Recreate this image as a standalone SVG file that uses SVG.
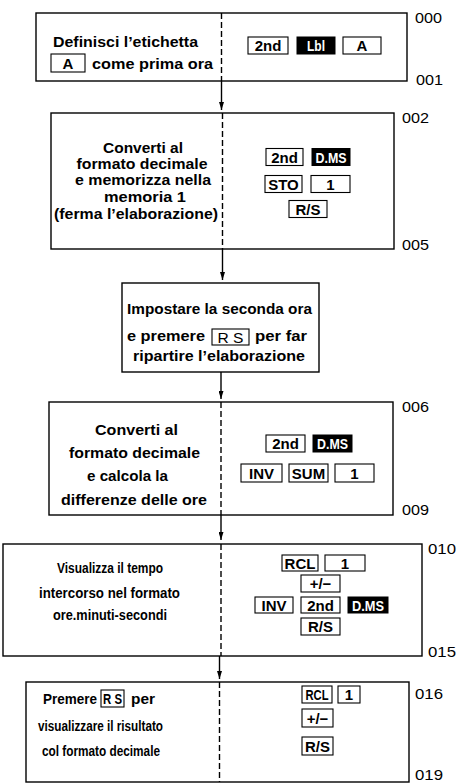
<svg xmlns="http://www.w3.org/2000/svg" width="468" height="783" viewBox="0 0 468 783">
<defs>
<style>
.box{fill:#fff;stroke:#000;stroke-width:1.4}
.div{stroke:#000;stroke-width:1.4;stroke-dasharray:6 3;fill:none}
.key{fill:#fff;stroke:#000;stroke-width:1.1}
.bkey{fill:#000;stroke:#000;stroke-width:1}
.t{font-family:"Liberation Sans",Arial,sans-serif;font-weight:bold;font-size:15px;fill:#000}
.s{font-size:14px}
.k{font-family:"Liberation Sans",Arial,sans-serif;font-weight:bold;font-size:15px;fill:#000;text-anchor:middle}
.w{fill:#fff}
.n{font-family:"Liberation Sans",Arial,sans-serif;font-size:14px;fill:#000}
.c{stroke:#000;stroke-width:1.4;fill:none;marker-end:url(#ah)}
</style>
<marker id="ah" viewBox="0 0 8 5" refX="8" refY="2.5" markerWidth="8" markerHeight="5" markerUnits="userSpaceOnUse" orient="auto">
<path d="M0,0 L8,2.5 L0,5 z" fill="#000"/>
</marker>
</defs>
<rect width="468" height="783" fill="#fff"/>

<g id="connectors">
<line class="c" x1="221.5" y1="81" x2="221.5" y2="110"/>
<line class="c" x1="222.5" y1="249" x2="222.5" y2="280"/>
<line class="c" x1="221" y1="372" x2="221" y2="399"/>
<line class="c" x1="221" y1="515" x2="221" y2="540"/>
<line class="c" x1="219.5" y1="656" x2="219.5" y2="679"/>
</g>

<g id="step1">
<rect class="box" x="36" y="13" width="371" height="68"/>
<line class="div" x1="221.5" y1="13" x2="221.5" y2="81"/>
<text class="t" x="125.5" y="47" text-anchor="middle" textLength="145" lengthAdjust="spacingAndGlyphs">Definisci l’etichetta</text>
<rect class="key" x="51" y="54" width="34" height="18"/>
<text class="k" x="68" y="69">A</text>
<text class="t" x="92" y="69" textLength="121" lengthAdjust="spacingAndGlyphs">come prima ora</text>
<rect class="key" x="248" y="37" width="40" height="17"/>
<text class="k" x="268" y="51">2nd</text>
<rect class="bkey" x="297" y="37" width="38" height="17"/>
<text class="k w" x="316" y="51" textLength="18" lengthAdjust="spacingAndGlyphs">Lbl</text>
<rect class="key" x="343" y="37" width="38" height="17"/>
<text class="k" x="362" y="51">A</text>
<text class="n" x="415" y="23" textLength="27" lengthAdjust="spacingAndGlyphs">000</text>
<text class="n" x="416" y="85" textLength="27" lengthAdjust="spacingAndGlyphs">001</text>
</g>

<g id="step2">
<rect class="box" x="51" y="113" width="343" height="136"/>
<line class="div" x1="222.5" y1="113" x2="222.5" y2="249"/>
<text class="t" x="143" y="152.5" text-anchor="middle" textLength="80" lengthAdjust="spacingAndGlyphs">Converti al</text>
<text class="t" x="142" y="168.5" text-anchor="middle" textLength="131" lengthAdjust="spacingAndGlyphs">formato decimale</text>
<text class="t" x="143" y="185" text-anchor="middle" textLength="136" lengthAdjust="spacingAndGlyphs">e memorizza nella</text>
<text class="t" x="145" y="202" text-anchor="middle" textLength="82" lengthAdjust="spacingAndGlyphs">memoria 1</text>
<text class="t" x="136" y="218.5" text-anchor="middle" textLength="164" lengthAdjust="spacingAndGlyphs">(ferma l’elaborazione)</text>
<rect class="key" x="266" y="148.5" width="37" height="17"/>
<text class="k" x="284.5" y="162.5">2nd</text>
<rect class="bkey" x="312" y="148.5" width="38" height="17"/>
<text class="k w" x="331" y="162.5" textLength="31" lengthAdjust="spacingAndGlyphs">D.MS</text>
<rect class="key" x="265" y="175.5" width="37" height="17"/>
<text class="k" x="283.5" y="189.5">STO</text>
<rect class="key" x="311" y="175.5" width="39" height="17"/>
<text class="k" x="330.5" y="189.5">1</text>
<rect class="key" x="289" y="200.5" width="38" height="17"/>
<text class="k" x="308" y="214.5">R/S</text>
<text class="n" x="402" y="123" textLength="27" lengthAdjust="spacingAndGlyphs">002</text>
<text class="n" x="402" y="250" textLength="27" lengthAdjust="spacingAndGlyphs">005</text>
</g>

<g id="step3">
<rect class="box" x="122" y="283" width="197" height="89"/>
<text class="t" x="219.5" y="313.5" text-anchor="middle" textLength="185" lengthAdjust="spacingAndGlyphs">Impostare la seconda ora</text>
<text class="t" x="127" y="340.5" textLength="78" lengthAdjust="spacingAndGlyphs">e premere</text>
<rect class="key" x="212" y="329" width="37" height="16"/>
<text class="k" x="230.5" y="342.5" style="font-weight:normal" textLength="26" lengthAdjust="spacingAndGlyphs">R S</text>
<text class="t" x="255" y="340.5" textLength="52" lengthAdjust="spacingAndGlyphs">per far</text>
<text class="t" x="219" y="361" text-anchor="middle" textLength="172" lengthAdjust="spacingAndGlyphs">ripartire l’elaborazione</text>
</g>

<g id="step4">
<rect class="box" x="49" y="402" width="344" height="113"/>
<line class="div" x1="221" y1="402" x2="221" y2="515"/>
<text class="t" x="136.5" y="435" text-anchor="middle" textLength="83" lengthAdjust="spacingAndGlyphs">Converti al</text>
<text class="t" x="134.5" y="457.5" text-anchor="middle" textLength="131" lengthAdjust="spacingAndGlyphs">formato decimale</text>
<text class="t" x="127.5" y="481" text-anchor="middle" textLength="81" lengthAdjust="spacingAndGlyphs">e calcola la</text>
<text class="t" x="134" y="504.5" text-anchor="middle" textLength="146" lengthAdjust="spacingAndGlyphs">differenze delle ore</text>
<rect class="key" x="266" y="435" width="39" height="17"/>
<text class="k" x="285.5" y="449">2nd</text>
<rect class="bkey" x="313" y="435" width="39" height="17"/>
<text class="k w" x="332.5" y="449" textLength="31" lengthAdjust="spacingAndGlyphs">D.MS</text>
<rect class="key" x="241" y="464" width="41" height="18"/>
<text class="k" x="261.5" y="478.5">INV</text>
<rect class="key" x="289" y="464" width="39" height="18"/>
<text class="k" x="308.5" y="478.5">SUM</text>
<rect class="key" x="335" y="464" width="39" height="18"/>
<text class="k" x="354.5" y="478.5">1</text>
<text class="n" x="402" y="412" textLength="27" lengthAdjust="spacingAndGlyphs">006</text>
<text class="n" x="402" y="515" textLength="27" lengthAdjust="spacingAndGlyphs">009</text>
</g>

<g id="step5">
<rect class="box" x="3" y="544" width="419" height="112"/>
<line class="div" x1="221" y1="544" x2="221" y2="656"/>
<text class="t s" x="110" y="572.5" text-anchor="middle" textLength="106" lengthAdjust="spacingAndGlyphs">Visualizza il tempo</text>
<text class="t s" x="109.5" y="597.5" text-anchor="middle" textLength="141" lengthAdjust="spacingAndGlyphs">intercorso nel formato</text>
<text class="t s" x="110" y="619.5" text-anchor="middle" textLength="114" lengthAdjust="spacingAndGlyphs">ore.minuti-secondi</text>
<rect class="key" x="282" y="555" width="36" height="16"/>
<text class="k" x="300" y="568.5">RCL</text>
<rect class="key" x="325" y="555" width="40" height="16"/>
<text class="k" x="345" y="568.5">1</text>
<rect class="key" x="301" y="575" width="39" height="17"/>
<text class="k" x="320.5" y="589">+/−</text>
<rect class="key" x="255" y="597" width="38" height="16"/>
<text class="k" x="274" y="610.5">INV</text>
<rect class="key" x="301" y="597" width="39" height="16"/>
<text class="k" x="320.5" y="610.5">2nd</text>
<rect class="bkey" x="348" y="597" width="40" height="16"/>
<text class="k w" x="368" y="610.5" textLength="32" lengthAdjust="spacingAndGlyphs">D.MS</text>
<rect class="key" x="301" y="618" width="39" height="17"/>
<text class="k" x="320.5" y="632">R/S</text>
<text class="n" x="428" y="554" textLength="28" lengthAdjust="spacingAndGlyphs">010</text>
<text class="n" x="428" y="657" textLength="28" lengthAdjust="spacingAndGlyphs">015</text>
</g>

<g id="step6">
<rect class="box" x="26" y="682" width="383" height="100"/>
<line class="div" x1="219.5" y1="682" x2="219.5" y2="782"/>
<text class="t s" x="43" y="704" textLength="54" lengthAdjust="spacingAndGlyphs">Premere</text>
<rect class="key" x="101" y="690" width="23" height="17"/>
<text class="k" x="112.5" y="704" textLength="19" lengthAdjust="spacingAndGlyphs">R S</text>
<text class="t s" x="131" y="704" textLength="24" lengthAdjust="spacingAndGlyphs">per</text>
<text class="t s" x="100.5" y="731" text-anchor="middle" textLength="125" lengthAdjust="spacingAndGlyphs">visualizzare il risultato</text>
<text class="t s" x="101" y="756" text-anchor="middle" textLength="118" lengthAdjust="spacingAndGlyphs">col formato decimale</text>
<rect class="key" x="302" y="686" width="30" height="17"/>
<text class="k" x="317" y="700" textLength="23" lengthAdjust="spacingAndGlyphs">RCL</text>
<rect class="key" x="338" y="686" width="22" height="17"/>
<text class="k" x="349" y="700">1</text>
<rect class="key" x="302" y="709" width="31" height="18"/>
<text class="k" x="317.5" y="723.5">+/−</text>
<rect class="key" x="302" y="737" width="31" height="18"/>
<text class="k" x="317.5" y="751.5" textLength="25" lengthAdjust="spacingAndGlyphs">R/S</text>
<text class="n" x="415" y="699" textLength="28" lengthAdjust="spacingAndGlyphs">016</text>
<text class="n" x="415" y="780" textLength="28" lengthAdjust="spacingAndGlyphs">019</text>
</g>
</svg>
